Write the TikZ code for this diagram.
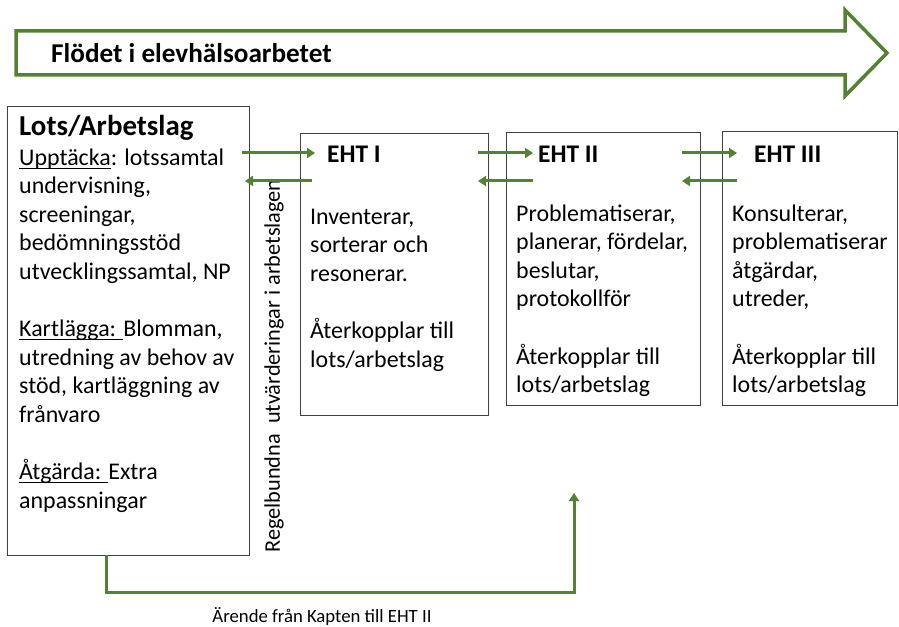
\documentclass[tikz,border=0pt]{standalone}
\usepackage{fontspec}
\setmainfont{Carlito}
\usepackage{xcolor}
\usepackage{tikz}
\usetikzlibrary{positioning, arrows.meta}
\definecolor{flowgreen}{RGB}{84,130,53}
\definecolor{framegray}{RGB}{64,64,64}
\newcommand\stageword[1]{\setbox0\hbox{#1}\rlap{\rule[-3.5bp]{\wd0}{1bp}}\box0}
\tikzset{
  stage/.style={draw=framegray, line width=1.2bp, inner sep=0pt, anchor=north west},
  heading/.style={inner sep=0pt, anchor=base west, font=\bfseries\fontsize{25.5}{28.7}\selectfont},
  bodytext/.style={inner sep=0pt, anchor=north west, align=left, font=\fontsize{24}{28.7}\selectfont},
  link/.style={flowgreen, line width=3bp, -{Triangle[length=8bp, width=10bp]}}
}

\begin{document}
\begin{tikzpicture}[x=1bp, y=-1bp]
\useasboundingbox (0,0) rectangle (899,627);
\draw[flowgreen, line width=3.5bp, fill=white] (16,31) -- (845,31) -- (845,10) -- (887,53) -- (845,96) -- (845,75) -- (16,75) -- cycle;
\node[heading, font=\bfseries\fontsize{27.3}{30}\selectfont] (flow) at (51,63) {Flödet i elevhälsoarbetet};

\node[stage, minimum width=242bp, minimum height=449bp] (lots) at (7,106) {};
\node[stage, minimum width=188bp, minimum height=282bp] (eht1) at (300,133) {};
\node[stage, minimum width=194bp, minimum height=273bp] (eht2) at (506,132) {};
\node[stage, minimum width=175bp, minimum height=274bp] (eht3) at (722,131) {};

\node[heading, font=\bfseries\fontsize{29}{30}\selectfont] (lotshead) at (19,136) {Lots/Arbetslag};
\node[heading] (eht1head) at (327,163) {EHT I};
\node[heading] (eht2head) at (538,163) {EHT II};
\node[heading] (eht3head) at (754,163) {EHT III};

\node[bodytext] (lotsbody) at (19,144.9) {\strut\stageword{Upptäcka}: lotssamtal\\ undervisning,\\ screeningar,\\ bedömningsstöd\\ utvecklingssamtal, NP\\[28.7bp] \stageword{Kartlägga: }Blomman,\\ utredning av behov av\\ stöd, kartläggning av\\ frånvaro\\[28.7bp] \stageword{Åtgärda: }Extra\\ anpassningar};
\node[bodytext] (eht1body) at (310,203.9) {\strut Inventerar,\\ sorterar och\\ resonerar.\\[28.7bp] Återkopplar till\\ lots/arbetslag};
\node[bodytext] (eht2body) at (516,200.9) {\strut Problematiserar,\\ planerar, fördelar,\\ beslutar,\\ protokollför\\[28.7bp] Återkopplar till\\ lots/arbetslag};
\node[bodytext] (eht3body) at (732,200.9) {\strut Konsulterar,\\ problematiserar\\ åtgärdar,\\ utreder,\\[28.7bp] Återkopplar till\\ lots/arbetslag};

\node[rotate=90, inner sep=0pt, font=\fontsize{22.4}{26}\selectfont] (review) at (274,366) {Regelbundna\ \ utvärderingar i arbetslagen};

\coordinate (lotsout) at (242,153);
\coordinate (eht1in) at (315,153);
\coordinate (eht1out) at (312,181);
\coordinate (lotsin) at (245,181);
\coordinate (eht1fwd) at (478,153);
\coordinate (eht2in) at (533,153);
\coordinate (eht2back) at (533,181);
\coordinate (eht1ret) at (478,181);
\coordinate (eht2fwd) at (682,153);
\coordinate (eht3in) at (737,153);
\coordinate (eht3back) at (737,181);
\coordinate (eht2ret) at (682,181);
\draw[link] (lotsout) -- (eht1in);
\draw[link] (eht1out) -- (lotsin);
\draw[link] (eht1fwd) -- (eht2in);
\draw[link] (eht2back) -- (eht1ret);
\draw[link] (eht2fwd) -- (eht3in);
\draw[link] (eht3back) -- (eht2ret);

\coordinate (lotsfoot) at (106,555);
\coordinate (eht2foot) at (574,493);
\draw[link] (lotsfoot) -- ++(0,37) -| (eht2foot);
\node[inner sep=0pt, anchor=base, font=\fontsize{18.8}{22}\selectfont] (kapten) at (322,622) {Ärende från Kapten till EHT II};
\end{tikzpicture}
\end{document}
